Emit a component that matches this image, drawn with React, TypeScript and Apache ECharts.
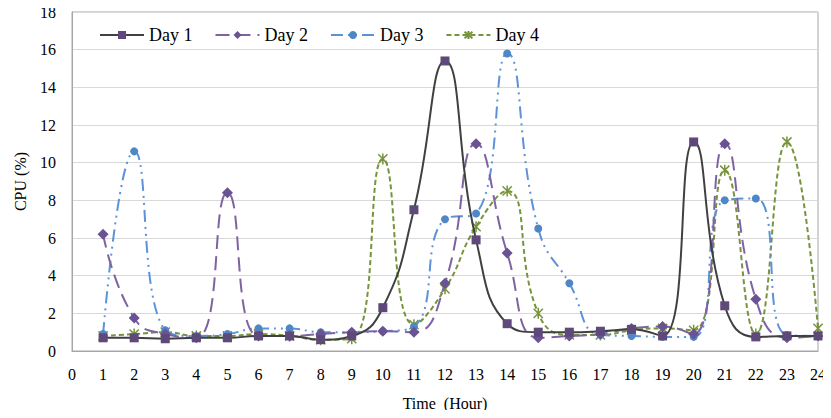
import React, { useEffect, useRef } from "react";
import * as echarts from "echarts";

const hours = [1, 2, 3, 4, 5, 6, 7, 8, 9, 10, 11, 12, 13, 14, 15, 16, 17, 18, 19, 20, 21, 22, 23, 24];
const day1 = [0.7, 0.7, 0.65, 0.7, 0.7, 0.8, 0.8, 0.6, 0.8, 2.3, 7.5, 15.4, 5.9, 1.45, 1.0, 1.0, 1.05, 1.15, 0.8, 11.1, 2.4, 0.75, 0.8, 0.8];
const day2 = [6.2, 1.75, 0.9, 0.7, 8.4, 0.8, 0.8, 0.9, 1.0, 1.05, 1.0, 3.6, 11.0, 5.2, 0.7, 0.8, 0.9, 1.2, 1.3, 0.9, 11.0, 2.75, 0.7, 0.8];
const day3 = [0.9, 10.6, 1.1, 0.8, 0.9, 1.2, 1.2, 1.0, 1.0, 1.05, 1.3, 7.0, 7.3, 15.8, 6.5, 3.6, 0.85, 0.8, 0.75, 0.75, 8.0, 8.1, 0.85, 0.8];
const day4 = [0.8, 0.9, 1.0, 0.8, 0.8, 0.9, 0.8, 0.6, 0.65, 10.2, 1.4, 3.3, 6.6, 8.5, 2.0, 0.85, 0.85, 1.1, 1.2, 1.1, 9.6, 0.9, 11.1, 1.2];
const seriesNames = ["Day 1", "Day 2", "Day 3", "Day 4"];

const font = "'Liberation Serif', 'Times New Roman', serif";

export default function App() {
  const ref = useRef<HTMLDivElement>(null);
  useEffect(() => {
    if (!ref.current) return;
    const chart = echarts.init(ref.current, null, { renderer: "svg" });
    const pts = (arr: number[]) => hours.map((h, i) => [h, arr[i]]);
    chart.setOption({
      animation: false,
      backgroundColor: "#ffffff",
      textStyle: { fontFamily: font },
      grid: { left: 72, right: 13, top: 12, bottom: 67, show: true, borderColor: "#a6a6a6", borderWidth: 1 },
      legend: {
        left: 94,
        top: 21,
        itemWidth: 44,
        itemHeight: 10,
        itemGap: 22,
        textStyle: { fontFamily: font, fontSize: 18, color: "#000" },
        data: seriesNames,
      },
      xAxis: {
        type: "value",
        min: 0,
        max: 24,
        interval: 1,
        name: "Time  (Hour)",
        nameLocation: "middle",
        nameGap: 44,
        nameTextStyle: { fontFamily: font, fontSize: 16, color: "#000" },
        axisLine: { show: true, lineStyle: { color: "#a6a6a6" } },
        axisTick: { show: false },
        splitLine: { show: false },
        axisLabel: { fontFamily: font, fontSize: 16, color: "#000", margin: 15 },
      },
      yAxis: {
        type: "value",
        min: 0,
        max: 18,
        interval: 2,
        name: "CPU (%)",
        nameLocation: "middle",
        nameGap: 44,
        nameTextStyle: { fontFamily: font, fontSize: 16, color: "#000" },
        axisLine: { show: true, lineStyle: { color: "#a6a6a6" } },
        axisTick: { show: false },
        splitLine: { show: true, lineStyle: { color: "#d9d9d9", width: 1 } },
        axisLabel: { fontFamily: font, fontSize: 16, color: "#000", margin: 16 },
      },
      series: [
        {
          name: "Day 1",
          type: "line",
          data: pts(day1),
          smooth: 0.5,
          symbol: "rect",
          symbolSize: 9,
          itemStyle: { color: "#5f497a" },
          lineStyle: { color: "#404040", width: 2, type: "solid" },
          z: 4,
        },
        {
          name: "Day 2",
          type: "line",
          data: pts(day2),
          smooth: 0.5,
          symbol: "diamond",
          symbolSize: 11,
          itemStyle: { color: "#6a5392" },
          lineStyle: { color: "#7e63a3", width: 2, type: [14, 7] },
          z: 3,
        },
        {
          name: "Day 3",
          type: "line",
          data: pts(day3),
          smooth: 0.5,
          symbol: "circle",
          symbolSize: 8,
          itemStyle: { color: "#4f86c6" },
          lineStyle: { color: "#5b93d8", width: 2, type: [12, 5, 2, 5, 2, 5] },
          z: 2,
        },
        {
          name: "Day 4",
          type: "line",
          data: pts(day4),
          smooth: 0.5,
          symbol: "path://M0,0L10,10M10,0L0,10M5,-1L5,11",
          symbolSize: 11,
          symbolKeepAspect: true,
          itemStyle: { color: "#77933c", borderColor: "#77933c", borderWidth: 1.5 },
          lineStyle: { color: "#77933c", width: 2, type: [5, 3] },
          z: 1,
        },
      ],
    });
    return () => chart.dispose();
  }, []);
  return <div ref={ref} style={{ width: 831, height: 418, margin: -8 }} />;
}
